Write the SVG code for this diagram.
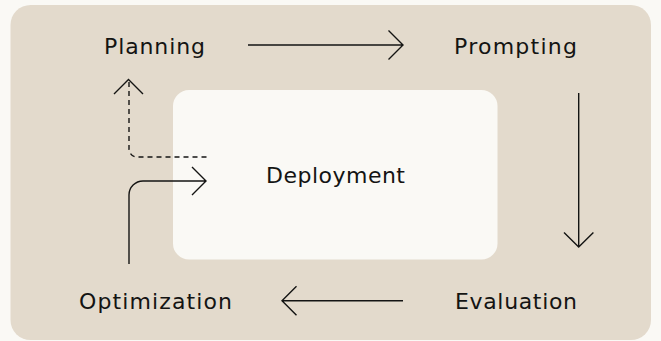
<svg xmlns="http://www.w3.org/2000/svg" width="661" height="341" viewBox="0 0 661 341">
<style>
.lbl{font-family:"DejaVu Sans","Noto Sans","Liberation Sans",sans-serif;font-size:22px;fill:#141413;text-anchor:middle}
.ln{fill:none;stroke:#141413;stroke-width:1.4;stroke-linecap:butt;stroke-linejoin:miter}
.dash{stroke-dasharray:5 4}
</style>
<rect x="0" y="0" width="661" height="341" fill="#FAF9F5"/>
<rect x="10.5" y="5" width="640.5" height="335" rx="20" fill="#E3DACC"/>
<g id="deployment">
<rect x="173" y="90" width="324.5" height="169.5" rx="16" fill="#FAF9F5"/>
<text class="lbl" x="335.5" y="182.5" textLength="139" lengthAdjust="spacing">Deployment</text>
</g>
<g id="planning"><text class="lbl" x="154.5" y="53.5" textLength="101" lengthAdjust="spacing">Planning</text></g>
<g id="prompting"><text class="lbl" x="515.5" y="53.5" textLength="123" lengthAdjust="spacing">Prompting</text></g>
<g id="evaluation"><text class="lbl" x="516" y="308.5" textLength="122" lengthAdjust="spacing">Evaluation</text></g>
<g id="optimization"><text class="lbl" x="155.5" y="308.5" textLength="153" lengthAdjust="spacing">Optimization</text></g>
<g id="connectors">
<path class="ln" d="M248 45H403M388.5 30.5L403 45L388.5 59.5"/>
<path class="ln" d="M578.7 93V247M564 232.5L578.7 247L593.4 232.5"/>
<path class="ln" d="M403 300.7H282M296.5 286.2L282 300.7L296.5 315.2"/>
<path class="ln" d="M129 264V195A14 14 0 0 1 143 181H206M192 167L206 181L192 195"/>
<path class="ln dash" d="M206.5 157H137A8 8 0 0 1 129 149V80"/>
<path class="ln" d="M114 94L128.5 79.5L143 94"/>
</g>
</svg>
